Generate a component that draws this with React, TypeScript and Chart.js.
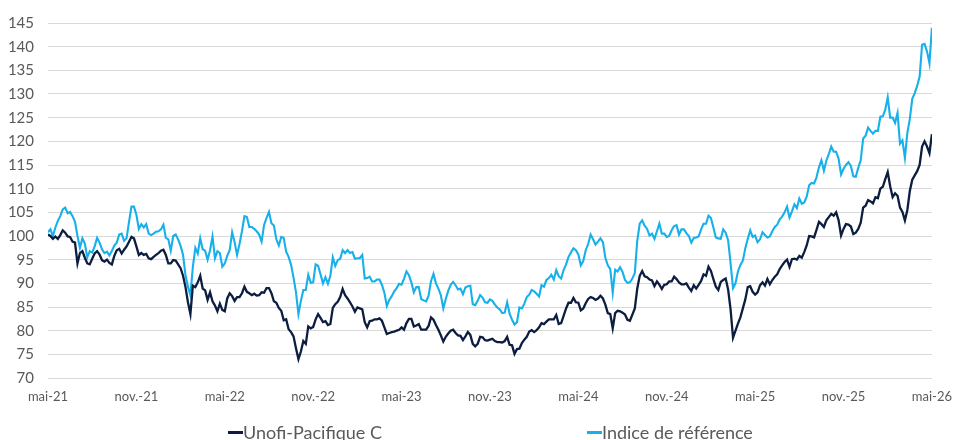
import React, { useEffect, useRef } from "react";
import { Chart, registerables } from "chart.js";

Chart.register(...registerables);

const TICK_LABELS = ["mai-21", "nov.-21", "mai-22", "nov.-22", "mai-23", "nov.-23", "mai-24", "nov.-24", "mai-25", "nov.-25", "mai-26"];
const MONTHS_PER_TICK = 6;
const POINTS_PER_MONTH = 6;

const SERIES_NAMES = ["Unofi-Pacifique C", "Indice de référence"];
const SERIES_COLORS = ["#0c1d40", "#17b0ea"];

const fundValues = [
  100.3, 100, 99.4, 99.9, 99.4, 100.2, 101.2, 100.7, 99.9, 99.8,
  98.8, 98.6, 94.2, 96.4, 96.8, 95.4, 94.2, 94, 95.2, 96.3,
  96.8, 96.1, 94.9, 94.6, 95, 94.3, 94, 95.8, 97, 97.3,
  96.3, 97.1, 97.8, 98.8, 99.8, 99.5, 97.8, 96, 96.4, 96,
  96.2, 95.3, 95.1, 95.6, 96, 96.4, 96.9, 97.1, 96, 94.2,
  94.2, 94.9, 94.8, 94, 93.2, 91.6, 89.2, 86, 83.5, 89.5,
  89.2, 90.2, 91.6, 88.9, 88.5, 86.5, 88.1, 86.2, 85.3, 84.1,
  85.7, 84.4, 84.1, 86.8, 87.9, 87.3, 86.3, 87.1, 87.1, 87.9,
  89.3, 88.2, 87.9, 87.5, 87.8, 87.4, 87.5, 88.1, 88, 89,
  89, 87.9, 86.2, 85.9, 84.8, 84.2, 82.2, 82.4, 80.3, 79.7,
  78.8, 76.3, 74, 75.6, 77.8, 77.2, 80.9, 80.5, 80.8, 82.4,
  83.5, 82.7, 81.8, 82, 81.2, 81.4, 84.8, 85.6, 86.1, 87.1,
  88.8, 87.5, 86.8, 86, 85.1, 84, 84.9, 84.7, 84.5, 81.8,
  80.7, 82, 82.1, 82.4, 82.4, 82.6, 82.1, 80.7, 79.3, 79.5,
  79.7, 79.8, 80, 80.2, 80.7, 80.2, 81.6, 82.5, 82.5, 80.9,
  81.1, 81.4, 80.2, 80.2, 80.2, 81, 82.8, 82.3, 81.2, 80.2,
  79, 77.7, 78.7, 79.4, 80, 80.2, 79.5, 79, 78.9, 78,
  78.8, 79.7, 79.1, 77.2, 76.7, 77.2, 78.7, 78.6, 78, 77.9,
  78.1, 78.3, 77.8, 77.6, 77.6, 77.5, 77.8, 78.7, 77, 76.9,
  75.1, 76.1, 76.2, 77.4, 78.1, 78.7, 79.8, 80.1, 79.7, 80.1,
  80.7, 81.6, 81.4, 81.9, 82.4, 82.4, 82.4, 83.3, 81.4, 81.6,
  83.1, 84.7, 85.9, 85.9, 86.9, 86, 85.9, 84.3, 84.7, 85.8,
  86.7, 87.1, 86.9, 86.5, 86.8, 87.4, 86.8, 85.5, 83.7, 83.5,
  80.5, 83.7, 84.2, 84.1, 83.8, 83.4, 82.3, 82.1, 83.4, 84.7,
  88.9, 91.6, 92.6, 91.5, 91.3, 90.8, 90.6, 89.4, 90.4, 89.7,
  88.8, 89.7, 89.8, 90.4, 90.4, 91.4, 90.9, 90.2, 89.8, 89.8,
  90, 89.1, 88.4, 89.6, 88.9, 89.7, 90.5, 91.9, 91.6, 93.5,
  92.6, 90.9, 89.3, 88.6, 90.3, 90.7, 91, 88.7, 84.5, 78.5,
  80, 81.5, 82.8, 84.7, 86.6, 89.2, 89.4, 88.2, 87.6, 88.1,
  89.6, 90.2, 89.5, 90.9, 89.8, 90.7, 91.4, 91.9, 93, 93.8,
  94.5, 95, 93.5, 95.1, 95.2, 95, 95.8, 95.4, 96.6, 98,
  100, 99.9, 99.7, 101.3, 103, 102.5, 101.9, 103.3, 104, 104.7,
  104.3, 105, 103.3, 100.1, 101.5, 102.5, 102.4, 102, 100.4, 100.7,
  101.5, 102.8, 106, 106.4, 107.6, 107.3, 106.9, 108.2, 108, 110,
  110.4, 112, 113.5, 110.5, 108.2, 109, 108.5, 106, 105.1, 103.3,
  105.5, 109.5, 111.9, 112.8, 113.7, 115, 118.9, 120, 118.9, 117.5,
  121.5,
];

const indexValues = [
  100.8, 101.4, 100, 101.8, 103.2, 104.2, 105.6, 106, 104.8, 105.1,
  104.2, 103, 100, 97.5, 99.5, 98.4, 95.5, 96.8, 96.5, 97.8,
  99.6, 98.6, 97.2, 96.4, 96.7, 95.9, 96.8, 98, 98.6, 100.3,
  100.5, 99, 99.5, 103, 106.2, 106.2, 104.5, 101.5, 102.5, 101.8,
  102.5, 100.5, 100.2, 100.5, 100.9, 101, 101.4, 102.4, 99.6, 99.3,
  96.9, 100, 100.3, 99.3, 97.9, 96, 91.7, 89.3, 87.5, 93.5,
  97.5, 96.3, 99.5, 97.2, 96.9, 95, 97, 99.9, 95.3, 96.8,
  96.4, 93.5, 94.2, 95.8, 97, 100.8, 98.7, 96, 98.3, 101,
  104.2, 104, 101.9, 101.9, 101.5, 101, 100.3, 98.8, 102.3, 103.8,
  105.1, 102.7, 102.2, 99.3, 98, 99.8, 99.6, 96.7, 95.6, 93.9,
  91.2, 88.1, 83.5, 86.3, 88.6, 88.6, 91.8, 90.1, 90.2, 94,
  93.7, 91.9, 90, 91.3, 89.9, 91.6, 95.5, 93.7, 94.9, 95.2,
  97, 96.4, 97, 96.4, 96.6, 95.2, 95.3, 95.3, 96, 91,
  91.1, 91.4, 90.4, 90.4, 90.8, 90.8, 89.7, 88, 85.2, 86.5,
  87.3, 88.3, 89, 89.9, 89.7, 91, 92.5, 91.7, 90.2, 88.1,
  89.2, 89.2, 86.7, 86.4, 86.2, 87.4, 90.5, 92, 90, 88.9,
  87.5, 84.7, 86.7, 88.4, 89.7, 90.3, 89.6, 88.7, 88.9, 87.7,
  89.1, 89.4, 89.5, 85.6, 85.4, 86.3, 87.5, 87, 86, 85.9,
  86.6, 86.3, 85.5, 84.9, 84.5, 83.7, 83.8, 86, 83.6, 82.3,
  81.3, 81.8, 84.9, 84.7, 85.7, 87.1, 87.6, 88.6, 88.3, 87.8,
  87.2, 89.6, 89.3, 90.7, 91.1, 91.8, 90.8, 92.8, 91.5, 91,
  92.8, 94, 95.6, 96.5, 97.4, 97, 96.1, 93.8, 94.7, 97,
  98.3, 100.3, 99.3, 98.2, 98.8, 99.5, 98.7, 95.4, 93.8, 93,
  88, 92.9, 92.5, 93.4, 92.4, 90.7, 90.1, 90.2, 91, 92.2,
  99, 102.6, 103.3, 102.2, 101.5, 100.1, 100.5, 99.4, 101, 102.6,
  100.5, 100.5, 99.8, 100, 101.2, 102.1, 102.3, 100.3, 101.4, 101.4,
  100.6, 100, 98.6, 99.6, 99.7, 99.9, 101.4, 102.6, 102.6, 104.3,
  103.8, 101.8, 99.7, 99.5, 99.4, 101.4, 100.7, 99.1, 94.2, 89,
  90, 92.5, 93.9, 94.8, 97.4, 99.4, 101.2, 99.8, 100.1, 98.7,
  99.3, 100.8, 100.2, 99.7, 99.9, 101, 101.9, 102.4, 103.5, 104.1,
  105, 106.2, 103.9, 105.2, 106.7, 105.9, 107.9, 106.8, 107.1, 108.3,
  110.7, 111.2, 111.1, 112.4, 114.5, 116, 113.8, 115.9, 117.3, 118.9,
  117.8, 117.8, 116.3, 113, 114.2, 115, 115.6, 114.8, 112.6, 112.5,
  114.4, 116, 120.6, 121.2, 122.9, 122.2, 121.6, 122.2, 122.2, 125.2,
  125.3, 126.7, 129.3, 125, 125, 123.9, 126, 119.5, 120.2, 116.5,
  121.8, 124.7, 129, 130.2, 131.7, 133.7, 140.4, 140.6, 139, 136.5,
  144,
];

const Y_MIN = 70;
const Y_MAX = 145;
const Y_STEP = 5;

const FONT = "Lato, 'Noto Sans', sans-serif";
const TEXT_COLOR = "#595959";

function toPoints(values: number[]) {
  return values.map((v, i) => ({ x: i / POINTS_PER_MONTH, y: v }));
}

export default function App() {
  const canvasRef = useRef<HTMLCanvasElement | null>(null);

  useEffect(() => {
    if (!canvasRef.current) return;
    const chart = new Chart(canvasRef.current, {
      type: "line",
      data: {
        datasets: [
          {
            label: SERIES_NAMES[0],
            data: toPoints(fundValues),
            borderColor: SERIES_COLORS[0],
            backgroundColor: SERIES_COLORS[0],
            borderWidth: 2.3,
            pointRadius: 0,
            tension: 0,
          },
          {
            label: SERIES_NAMES[1],
            data: toPoints(indexValues),
            borderColor: SERIES_COLORS[1],
            backgroundColor: SERIES_COLORS[1],
            borderWidth: 2.1,
            pointRadius: 0,
            tension: 0,
          },
        ],
      },
      options: {
        animation: false,
        responsive: false,
        maintainAspectRatio: false,
        layout: { padding: { top: 18, right: 22, left: 0, bottom: 36 } },
        plugins: { legend: { display: false }, tooltip: { enabled: false } },
        scales: {
          x: {
            type: "linear",
            min: 0,
            max: (TICK_LABELS.length - 1) * MONTHS_PER_TICK,
            grid: { display: false, drawTicks: false },
            border: { display: false },
            afterFit: (scale: any) => {
              scale.height = 26;
            },
            ticks: {
              stepSize: MONTHS_PER_TICK,
              autoSkip: false,
              maxRotation: 0,
              padding: 11,
              color: TEXT_COLOR,
              font: { family: FONT, size: 13 },
              callback: (v: any) => TICK_LABELS[Math.round(Number(v) / MONTHS_PER_TICK)] ?? "",
            },
          },
          y: {
            min: Y_MIN,
            max: Y_MAX,
            grid: { color: "#d9d9d9", lineWidth: 1, drawTicks: false },
            border: { display: false },
            afterFit: (scale: any) => {
              scale.width = 48;
            },
            ticks: {
              stepSize: Y_STEP,
              padding: 14,
              color: TEXT_COLOR,
              font: { family: FONT, size: 15 },
            },
          },
        },
      },
    });
    return () => chart.destroy();
  }, []);

  const legendItem = (i: number, left: number) => (
    <div
      key={i}
      style={{
        position: "absolute",
        left,
        top: 421,
        display: "flex",
        alignItems: "center",
        fontFamily: FONT,
        fontSize: 18,
        color: TEXT_COLOR,
        whiteSpace: "nowrap",
      }}
    >
      <span style={{ display: "inline-block", width: 15, height: 3, background: SERIES_COLORS[i] }} />
      <span>{SERIES_NAMES[i]}</span>
    </div>
  );

  return (
    <div style={{ position: "fixed", left: 0, top: 0, width: 963, height: 440, background: "#fff" }}>
      <canvas ref={canvasRef} width={963} height={440} style={{ display: "block" }} />
      {legendItem(0, 228)}
      {legendItem(1, 587)}
    </div>
  );
}
